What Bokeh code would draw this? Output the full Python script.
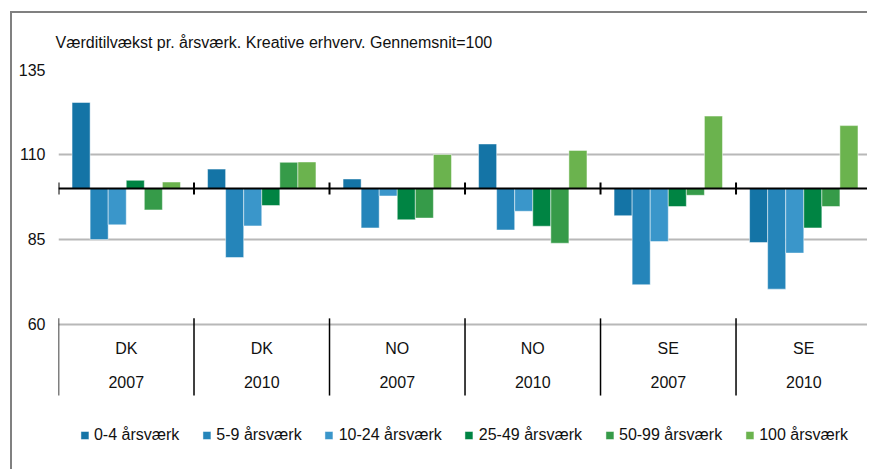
from bokeh.plotting import figure
from bokeh.models import Range1d, FixedTicker, Span, ColumnDataSource
from bokeh.core.properties import value
from bokeh.embed import file_html
from bokeh.resources import INLINE

# ---- data ----
countries = ["DK", "DK", "NO", "NO", "SE", "SE"]
years = ["2007", "2010", "2007", "2010", "2007", "2010"]
series_names = ["0-4 årsværk", "5-9 årsværk", "10-24 årsværk",
                "25-49 årsværk", "50-99 årsværk", "100 årsværk"]
v_0_4 = [125.3, 105.7, 102.8, 113.1, 92.0, 84.1]
v_5_9 = [85.0, 79.7, 88.4, 87.8, 71.7, 70.4]
v_10_24 = [89.3, 89.0, 97.8, 93.3, 84.4, 81.0]
v_25_49 = [102.4, 95.0, 90.8, 88.9, 94.7, 88.4]
v_50_99 = [93.7, 107.7, 91.3, 83.9, 98.0, 94.7]
v_100 = [101.9, 107.8, 110.0, 111.2, 121.3, 118.5]
series_values = [v_0_4, v_5_9, v_10_24, v_25_49, v_50_99, v_100]
y_ticks = [60, 85, 110, 135]
base_value = 100
title_text = "Værditilvækst pr. årsværk. Kreative erhverv. Gennemsnit=100"

colors = ["#1474a6", "#2585ba", "#3a96ca", "#008443", "#369b49", "#6bb34e"]
FONT = "Liberation Sans"

n = len(countries)
p = figure(width=857, height=458, output_backend="svg", toolbar_location=None,
           x_range=Range1d(-0.5, 5.485), y_range=Range1d(16.76, 135),
           min_border_left=46, min_border_right=0, min_border_top=56,
           min_border_bottom=0)
p.styles = {"border-top": "2px solid #808080", "border-left": "2px solid #808080",
            "margin-left": "10px", "margin-top": "11px"}

p.title.text = title_text
p.title.text_font = FONT
p.title.text_font_size = "16px"
p.title.text_font_style = "normal"
p.title.text_color = "#111111"
p.title.align = "left"
p.title.offset = -3
p.title.text_line_height = 0.6
p.title.standoff = 37

p.outline_line_color = None
p.xaxis.visible = False
p.xgrid.visible = False
p.yaxis.ticker = FixedTicker(ticks=y_ticks)
p.ygrid.ticker = FixedTicker(ticks=y_ticks)
p.ygrid.grid_line_color = "#b8b8b8"
p.ygrid.grid_line_width = 2
p.yaxis.axis_line_color = None
p.yaxis.major_tick_line_color = None
p.yaxis.minor_tick_line_color = None
p.yaxis.major_tick_out = 0
p.yaxis.major_tick_in = 0
p.yaxis.minor_tick_out = 0
p.yaxis.major_label_standoff = 13
p.yaxis.major_label_text_font = FONT
p.yaxis.major_label_text_font_size = "16px"
p.yaxis.major_label_text_color = "#111111"

bw = 0.8 / len(series_values)
for i, (name, vals) in enumerate(zip(series_names, series_values)):
    src = ColumnDataSource(dict(x=[j + (i - 2.5) * bw for j in range(n)],
                                top=vals, bottom=[base_value] * n))
    p.vbar(x="x", top="top", bottom="bottom", width=bw, source=src,
           fill_color=colors[i], line_color="white", line_width=0.8,
           line_alpha=0.6, legend_label=name)

# baseline at 100 with group ticks
p.add_layout(Span(location=base_value, dimension="width",
                  line_color="black", line_width=2))
bounds = [j - 0.5 for j in range(n + 1)]
p.segment(x0=bounds, x1=bounds, y0=[base_value - 1.75] * len(bounds),
          y1=[base_value + 1.75] * len(bounds), line_color="black", line_width=2)

# category separators and labels under the 60 gridline
sep_top, sep_bot = 61.8, 39.1
p.segment(x0=bounds, x1=bounds, y0=[sep_bot] * len(bounds),
          y1=[sep_top] * len(bounds), line_color="black", line_width=1.5)
lab_src = ColumnDataSource(dict(x=list(range(n)), c=countries, yr=years,
                                yc=[52.9] * n, yy=[43.2] * n))
p.text(x="x", y="yc", text="c", source=lab_src, text_align="center",
       text_baseline="middle", text_font=value(FONT), text_font_size="16px",
       text_color="#111111")
p.text(x="x", y="yy", text="yr", source=lab_src, text_align="center",
       text_baseline="middle", text_font=value(FONT), text_font_size="16px",
       text_color="#111111")

lg = p.legend[0]
lg.orientation = "horizontal"
lg.location = "bottom_center"
lg.margin = 27
lg.padding = 0
lg.spacing = 22
lg.border_line_color = None
lg.background_fill_alpha = 0
lg.glyph_width = 10
lg.glyph_height = 10
lg.label_standoff = 5
lg.label_text_font = FONT
lg.label_text_font_size = "16px"
lg.label_text_color = "#111111"

open("out.html", "w").write(file_html(p, INLINE))
